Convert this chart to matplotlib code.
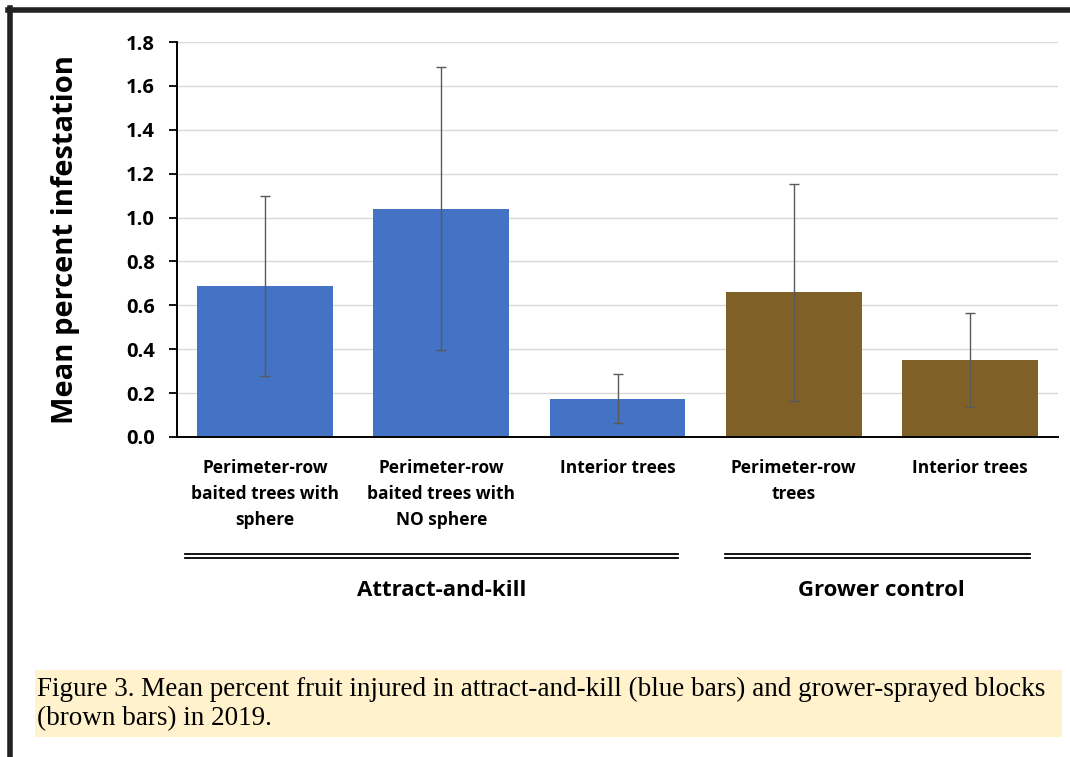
import numpy as np
import matplotlib.pyplot as plt
from matplotlib.lines import Line2D
from matplotlib.patches import Rectangle

categories = ["Perimeter-row\nbaited trees with\nsphere", "Perimeter-row\nbaited trees with\nNO sphere",
              "Interior trees", "Perimeter-row\ntrees", "Interior trees"]
means = [0.69, 1.04, 0.175, 0.66, 0.35]
errors = [0.41, 0.645, 0.11, 0.495, 0.215]
groups = ["Attract-and-kill", "Grower control"]
bar_colors = ["#4472C4", "#4472C4", "#4472C4", "#7F6128", "#7F6128"]
caption = ("Figure 3. Mean percent fruit injured in attract-and-kill (blue bars) and grower-sprayed blocks\n"
           "(brown bars) in 2019.")

sans = ["Open Sans", "DejaVu Sans"]

fig = plt.figure(figsize=(10.7, 7.57), dpi=100)
ax = fig.add_axes([177/1070, 1-437/757, (1058-177)/1070, (437-42)/757])

x = np.arange(len(means))
ax.bar(x, means, width=0.77, color=bar_colors, zorder=2)
ax.errorbar(x, means, yerr=errors, fmt="none", ecolor="#595959", elinewidth=1.0,
            capsize=3.5, capthick=1.0, zorder=3)

ax.set_xlim(-0.5, len(means)-0.5)
ax.set_ylim(0, 1.8)
ax.set_yticks(np.arange(0, 1.81, 0.2))
ax.set_yticklabels(["%.1f" % v for v in np.arange(0, 1.81, 0.2)], fontsize=14.5, fontweight="bold", family=sans)
ax.set_xticks(x)
ax.set_xticklabels(categories, fontsize=12.5, fontweight="bold", family=sans, linespacing=1.58, va="top")
ax.tick_params(axis="x", length=0, pad=16)
ax.tick_params(axis="y", length=6, width=1.3, direction="out", pad=10)
ax.grid(axis="y", color="#D9D9D9", linewidth=1.0, zorder=0)
for s in ["top", "right"]:
    ax.spines[s].set_visible(False)
ax.spines["left"].set_linewidth(1.4)
ax.spines["bottom"].set_linewidth(1.4)
ax.set_ylabel("Mean percent infestation", fontsize=21, fontweight="bold", family=sans)
ax.yaxis.set_label_coords(-0.11, 0.5)

# group brackets (double lines) and labels
spans = [(185, 678), (725, 1030)]
label_x = [442, 881]
for (x0, x1), lx, name in zip(spans, label_x, groups):
    for yy in (554, 557.5):
        fig.add_artist(Line2D([x0/1070, x1/1070], [1-yy/757, 1-yy/757], color="black", linewidth=1.3))
    fig.text(lx/1070, 1-591/757, name, ha="center", va="center",
             fontsize=16, fontweight="bold", family=sans)

# outer frame: top and left borders
fig.add_artist(Line2D([8/1070, 1.0], [1-10/757, 1-10/757], color="#222222", linewidth=4))
fig.add_artist(Line2D([10/1070, 10/1070], [0, 1-8/757], color="#222222", linewidth=4))

# caption box
fig.add_artist(Rectangle((35/1070, 1-737/757), (1062-35)/1070, (737-670)/757,
                         transform=fig.transFigure, facecolor="#FFF2CC", edgecolor="none"))
fig.text(37/1070, 1-704/757, caption, ha="left", va="center", fontsize=19.5,
         family=["Liberation Serif", "DejaVu Serif"], linespacing=1.2)

fig.savefig("out.png", dpi=100)
